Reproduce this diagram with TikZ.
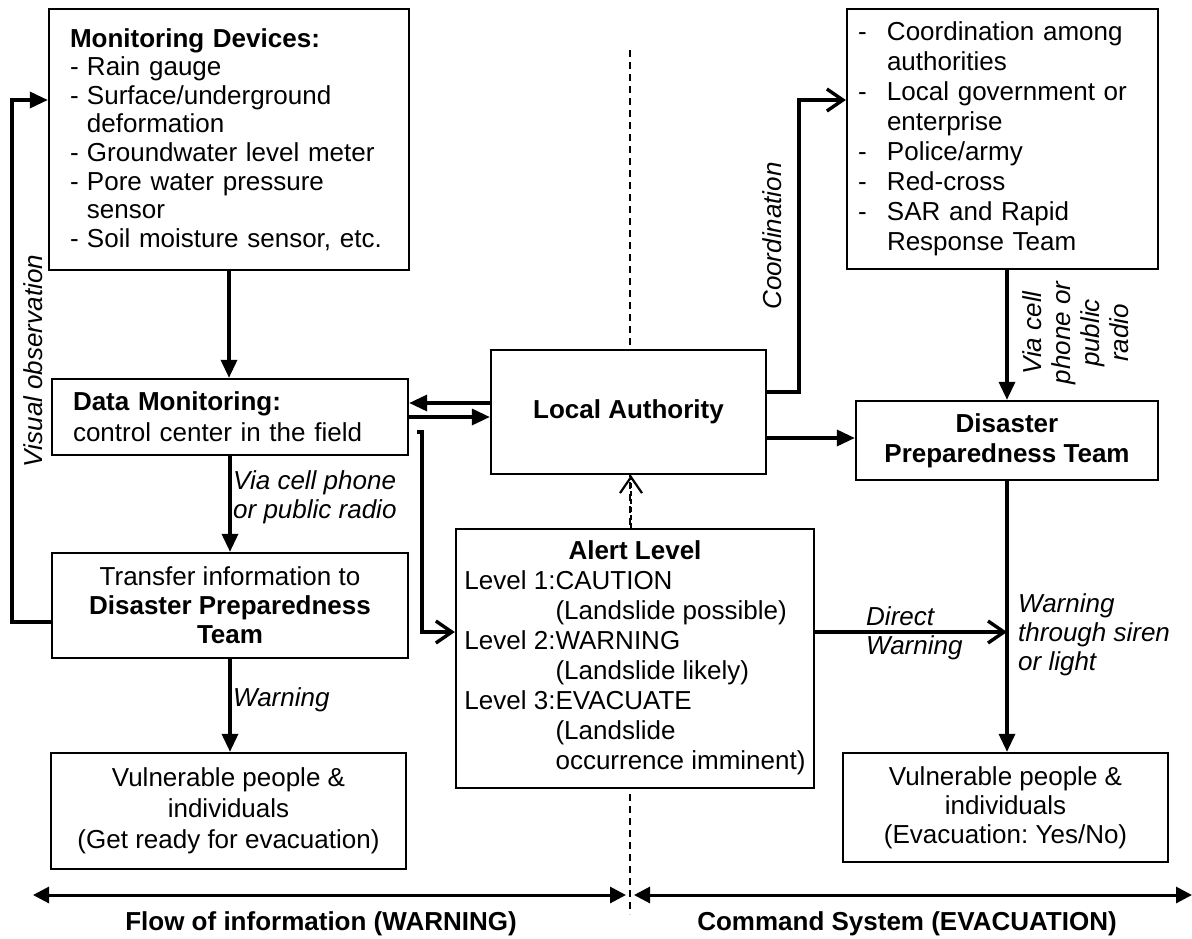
\documentclass[tikz,border=0pt]{standalone}
\usepackage{fontspec}
\setmainfont{Liberation Sans}
\usetikzlibrary{arrows.meta}
\frenchspacing

% list helpers: a dash item and the indent of its continuation lines
\newcommand{\itemdash}[1]{\makebox[#1][l]{-}}
\newcommand{\itemgap}[1]{\hspace*{#1}}

\begin{document}
\begin{tikzpicture}[x=1pt,y=-1pt,
  font=\fontsize{26}{30}\selectfont,
  box/.style={draw, line width=2.3pt, fill=white, inner sep=0pt},
  conn/.style={line width=3.4pt},
  fa/.style={-{Triangle[length=18pt,width=16pt]}},
  oa/.style={-{Straight Barb[length=16pt,width=22pt]}},
  lbl/.style={font=\fontsize{26}{29}\selectfont\itshape, inner sep=0pt},
  divider/.style={line width=1.8pt, dash pattern=on 7pt off 5pt},
  caption/.style={font=\fontsize{26}{30}\selectfont\bfseries, inner sep=0pt}]

\useasboundingbox (0,0) rectangle (1192,938);

% dividing line between the two halves
\draw[divider] (630,50) -- (630,914);

% ---- boxes ----
\node[box, minimum width=360pt, minimum height=261pt, text width=318pt, align=left,
      font=\fontsize{26}{28.6}\selectfont] (mon) at (229,139.5)
  {\textbf{Monitoring Devices:}\\
   \itemdash{17pt}Rain gauge\\
   \itemdash{17pt}Surface/underground\\
   \itemgap{17pt}deformation\\
   \itemdash{17pt}Groundwater level meter\\
   \itemdash{17pt}Pore water pressure\\
   \itemgap{17pt}sensor\\
   \itemdash{17pt}Soil moisture sensor, etc.};

\node[box, minimum width=356pt, minimum height=76pt, text width=314pt, align=left,
      font=\fontsize{26}{31}\selectfont] (dm) at (230,417)
  {\textbf{Data Monitoring:}\\ control center in the field};

\node[box, minimum width=356pt, minimum height=105pt, align=center,
      font=\fontsize{26}{29}\selectfont] (tr) at (230,605.5)
  {Transfer information to\\ \textbf{Disaster Preparedness}\\ \textbf{Team}};

\node[box, minimum width=355pt, minimum height=116pt, align=center,
      font=\fontsize{26}{31}\selectfont] (vl) at (228.5,811)
  {Vulnerable people \&\\ individuals\\ (Get ready for evacuation)};

\node[box, minimum width=275pt, minimum height=124pt] (la) at (628.5,412)
  {\textbf{Local Authority}};

\node[box, minimum width=358pt, minimum height=259pt] (al) at (635,658.5)
  {\begin{tabular}{@{}l@{}l@{}}
    \multicolumn{2}{c}{\textbf{Alert Level}}\\
    Level 1:&CAUTION\\
            &(Landslide possible)\\
    Level 2:&WARNING\\
            &(Landslide likely)\\
    Level 3:&EVACUATE\\
            &(Landslide\\
            &occurrence imminent)
   \end{tabular}};

\node[box, minimum width=311pt, minimum height=260pt, text width=289pt, align=left] (co) at (1002.5,139)
  {\itemdash{29pt}Coordination among\\
   \itemgap{29pt}authorities\\
   \itemdash{29pt}Local government or\\
   \itemgap{29pt}enterprise\\
   \itemdash{29pt}Police/army\\
   \itemdash{29pt}Red-cross\\
   \itemdash{29pt}SAR and Rapid\\
   \itemgap{29pt}Response Team};

\node[box, minimum width=302pt, minimum height=79pt, align=center] (dpt) at (1007,440.5)
  {\textbf{Disaster}\\ \textbf{Preparedness Team}};

\node[box, minimum width=325pt, minimum height=109pt, align=center,
      font=\fontsize{26}{29}\selectfont] (vr) at (1005.5,807.5)
  {Vulnerable people \&\\ individuals\\ (Evacuation: Yes/No)};

% ---- connectors, left half ----
\draw[conn,fa] (tr.west |- 0,622) -- (12,622) |- (mon.west |- 0,100);
\node[lbl, rotate=90] (visobs) at (33,361) {Visual observation};

\draw[conn,fa] (mon.south) -- (mon.south |- dm.north);
\draw[conn,fa] (dm.south) -- (tr.north);
\node[lbl, anchor=west, align=left] (viaL) at (233,497) {Via cell phone\\ or public radio};

\draw[conn,fa] (tr.south) -- (tr.south |- vl.north);
\node[lbl, anchor=west] (warnL) at (233,700) {Warning};

\draw[conn,fa] (la.west |- 0,403) -- (dm.east |- 0,403);
\draw[conn,fa] (dm.east |- 0,417) -- (la.west |- 0,417);
\draw[conn,oa,shorten <=8pt] (dm.east |- 0,432) -- (422,432) |- (al.west |- 0,632);

\draw[line width=2.2pt, dash pattern=on 5pt off 3pt, oa] (al.north -| 631,0) -- (la.south -| 631,0);

% ---- connectors, right half ----
\draw[conn,oa] (la.east |- 0,392) -- (799,392) |- (co.west |- 0,100);
\node[lbl, rotate=90] (coordlbl) at (772,236) {Coordination};

\draw[conn,fa] (dpt.north |- co.south) -- (dpt.north);
\node[lbl, rotate=90, align=center] (viaR) at (1076,333)
  {Via cell\\ phone or\\ public\\ radio};

\draw[conn,fa] (la.east |- 0,438) -- (dpt.west |- 0,438);
\draw[conn,fa] (dpt.south) -- (dpt.south |- vr.north);

\coordinate (dw) at (1007,632);
\draw[conn,oa] (al.east |- dw) -- (dw);
\node[lbl, anchor=west, align=left] (dwlbl) at (866,633) {Direct\\ Warning};
\node[lbl, anchor=west, align=left] (sirenlbl) at (1018,635)
  {Warning\\ through siren\\ or light};

% ---- spans of the two halves ----
\coordinate (l1) at (33,895);
\coordinate (l2) at (626,895);
\coordinate (r1) at (634,895);
\coordinate (r2) at (1192,895);
\draw[line width=3pt, {Triangle[length=16pt,width=16pt]}-{Triangle[length=16pt,width=16pt]}] (l1) -- (l2);
\draw[line width=3pt, {Triangle[length=16pt,width=16pt]}-{Triangle[length=16pt,width=16pt]}] (r1) -- (r2);
\node[caption] (capL) at (321,924) {Flow of information (WARNING)};
\node[caption] (capR) at (907,924) {Command System (EVACUATION)};

\end{tikzpicture}
\end{document}
